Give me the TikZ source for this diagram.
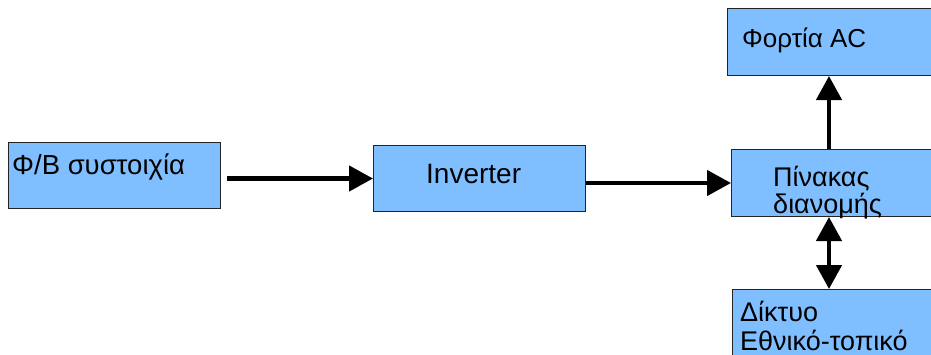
\documentclass[tikz,border=0pt]{standalone}
\usepackage{fontspec}
\setmainfont{Liberation Sans}
\usetikzlibrary{arrows.meta,calc}
\definecolor{boxblue}{RGB}{128,191,255}
\definecolor{boxline}{RGB}{35,35,35}
\tikzset{
  block/.style={draw=boxline, line width=1pt, fill=boxblue, rectangle,
    inner sep=0pt, anchor=north west},
  caption/.style={anchor=base west, inner sep=0pt, text=black, align=left},
  flow/.style={line width=4.5pt, -{Triangle[length=24pt,width=25pt]}},
  twoway/.style={line width=4.5pt,
    {Triangle[length=24pt,width=25pt]}-{Triangle[length=24pt,width=25pt]}},
}
\begin{document}
\begin{tikzpicture}[x=1pt,y=-1pt]
\useasboundingbox (0,0) rectangle (931,354);
\clip (0,0) rectangle (931,354);

% blocks
\node[block, minimum width=212pt, minimum height=66pt] (pv)   at (8,142)   {};
\node[block, minimum width=212pt, minimum height=66pt] (inv)  at (373,145) {};
\node[block, minimum width=250pt, minimum height=67pt] (pin)  at (731,149) {};
\node[block, minimum width=250pt, minimum height=67pt] (load) at (727,8)   {};
\node[block, minimum width=250pt, minimum height=100pt] (grid) at (732,289) {};

% labels (base anchor of a two-line label sits on its last line)
\node[caption, font=\fontsize{27.5}{32}\selectfont] (pvtext) at (12,174) {Φ/Β συστοιχία};
\node[caption, font=\fontsize{28}{32}\selectfont] (invtext) at (426,183) {Inverter};
\node[caption, font=\fontsize{26}{30}\selectfont] (loadtext) at (742,47) {Φορτία AC};
\node[caption, font=\fontsize{27}{27}\selectfont] (pintext) at (773,213) {Πίνακας\\διανομής};
\node[caption, font=\fontsize{27}{29}\selectfont] (gridtext) at (740,350) {Δίκτυο\\Εθνικό-τοπικό};

% connectors
\coordinate (busx) at (829,0);
\draw[flow] ($(pv.east |- inv.west)+(6,0)$) -- (inv.west);
\draw[flow] (inv.east |- pin.west) -- (pin.west);
\draw[flow] (pin.north -| busx) -- (load.south -| busx);
\draw[twoway] (pin.south -| busx) -- (grid.north -| busx);
\end{tikzpicture}
\end{document}
